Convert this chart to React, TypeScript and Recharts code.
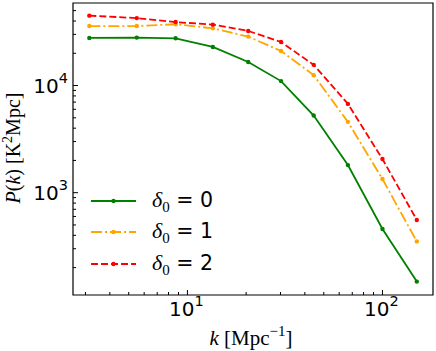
import React from 'react';
import { LineChart, Line, XAxis, YAxis, ReferenceArea, Legend } from 'recharts';

// values (log-log power spectrum)
const kValues = [3.14, 5.5, 8.7, 13.5, 20.5, 30.2, 44.4, 66.5, 100, 150];
const pDelta0 = [27800, 28000, 27600, 22900, 16600, 11000, 5250, 1810, 458, 148];
const pDelta1 = [35900, 35900, 37300, 34200, 28600, 21000, 12500, 4580, 1340, 351];
const pDelta2 = [44900, 42600, 39100, 37000, 32300, 25500, 15600, 6740, 2060, 556];
const deltaLabels = ['0', '1', '2'];

const xTicks = [3, 4, 5, 6, 7, 8, 9, 10, 20, 30, 40, 50, 60, 70, 80, 90, 100];
const yTicks = [
  200, 300, 400, 500, 600, 700, 800, 900, 1000,
  2000, 3000, 4000, 5000, 6000, 7000, 8000, 9000, 10000,
  20000, 30000, 40000, 50000,
];
const xMajor = [10, 100];
const yMajor = [1000, 10000];
const xDomain = [2.59, 181.6];
const yDomain = [111, 58900];

const data = kValues.map((k, i) => ({ k, p0: pDelta0[i], p1: pDelta1[i], p2: pDelta2[i] }));

const SANS = '"DejaVu Sans", sans-serif';
const SERIF = '"Liberation Serif", "DejaVu Serif", serif';

const exponent = (v: number) => String(Math.round(Math.log10(v)));

const XTick = ({ x, y, payload }: any) => {
  const major = xMajor.includes(payload.value);
  return (
    <g>
      <line x1={x} x2={x} y1={y} y2={y - (major ? 5 : 3)} stroke="#000" strokeWidth={1} />
      {major && (
        <text x={x - 1} y={y + 20.5} textAnchor="middle" fontFamily={SANS} fontSize={20} fill="#000">
          10<tspan dy={-9.5} fontSize={14.5}>{exponent(payload.value)}</tspan>
        </text>
      )}
    </g>
  );
};

const YTick = ({ x, y, payload }: any) => {
  const major = yMajor.includes(payload.value);
  return (
    <g>
      <line x1={x} x2={x + (major ? 5 : 3)} y1={y} y2={y} stroke="#000" strokeWidth={1} />
      {major && (
        <text x={x - 5} y={y + 7.3} textAnchor="end" fontFamily={SANS} fontSize={20} fill="#000">
          10<tspan dy={-9.5} fontSize={14.5}>{exponent(payload.value)}</tspan>
        </text>
      )}
    </g>
  );
};

const XTitle = ({ viewBox }: any) => {
  const cx = viewBox ? viewBox.x + viewBox.width / 2 - 2 : 251;
  const by = viewBox ? viewBox.y + 49.5 : 344.5;
  return (
    <text x={cx} y={by} textAnchor="middle" fontFamily={SERIF} fontSize={21} fill="#000">
      <tspan fontStyle="italic">k</tspan> [Mpc<tspan dy={-9} fontSize={15}>−1</tspan><tspan dy={9}>]</tspan>
    </text>
  );
};

const YTitle = ({ viewBox }: any) => {
  const cy = viewBox ? viewBox.y + viewBox.height / 2 - 1 : 148;
  const bx = 20;
  return (
    <text x={bx} y={cy} transform={`rotate(-90 ${bx} ${cy})`} textAnchor="middle" fontFamily={SERIF} fontSize={20} fill="#000">
      <tspan fontStyle="italic">P</tspan>(<tspan fontStyle="italic">k</tspan>) [K<tspan dy={-8.5} fontSize={14}>2</tspan><tspan dy={8.5}>Mpc]</tspan>
    </text>
  );
};

const LegendContent = ({ payload }: any) => (
  <div>
    {(payload || []).map((entry: any, i: number) => (
      <div key={i} style={{ display: 'flex', alignItems: 'center', height: 31.5 }}>
        <svg width={50} height={12} style={{ display: 'block' }}>
          <line x1={3} x2={48} y1={6} y2={6} stroke={entry.color} strokeWidth={1.8}
            strokeDasharray={entry.payload && entry.payload.strokeDasharray} />
          <circle cx={25.5} cy={6} r={2.2} fill={entry.color} />
        </svg>
        <span style={{ marginLeft: 14, fontFamily: SANS, fontSize: 20.5, color: '#000', whiteSpace: 'nowrap', lineHeight: '20px' }}>
          <span style={{ fontFamily: SERIF, fontStyle: 'italic', fontSize: 22 }}>δ</span>
          <span style={{ fontFamily: SERIF, fontSize: 15, position: 'relative', top: 5 }}>0</span>
          {' = '}{deltaLabels[i]}
        </span>
      </div>
    ))}
  </div>
);

export default function App() {
  return (
    <div style={{ position: 'absolute', left: 0, top: 0, background: '#fff' }}>
      <LineChart width={436} height={351} data={data} margin={{ top: 3, right: 3, bottom: 0, left: 0 }}>
        <XAxis
          dataKey="k"
          type="number"
          scale="log"
          domain={xDomain}
          allowDataOverflow
          ticks={xTicks}
          interval={0}
          tickSize={0}
          tickMargin={0}
          tickLine={false}
          axisLine={false}
          tick={<XTick />}
          height={56}
          label={{ content: (p: any) => <XTitle viewBox={p.viewBox} /> }}
        />
        <YAxis
          type="number"
          scale="log"
          domain={yDomain}
          allowDataOverflow
          ticks={yTicks}
          interval={0}
          tickSize={0}
          tickMargin={0}
          tickLine={false}
          axisLine={false}
          tick={<YTick />}
          width={73}
          label={{ content: (p: any) => <YTitle viewBox={p.viewBox} /> }}
        />
        <ReferenceArea x1={xDomain[0]} x2={xDomain[1]} y1={yDomain[0]} y2={yDomain[1]}
          fill="none" stroke="#000" strokeWidth={1.2} fillOpacity={0} />
        <Line dataKey="p0" name={`δ0 = ${deltaLabels[0]}`} stroke="#008000" strokeWidth={1.8}
          dot={{ r: 2.2, fill: '#008000', stroke: 'none' }} activeDot={false} isAnimationActive={false} />
        <Line dataKey="p1" name={`δ0 = ${deltaLabels[1]}`} stroke="#FFA500" strokeWidth={1.8} strokeDasharray="11 3 2 3"
          dot={{ r: 2.2, fill: '#FFA500', stroke: 'none' }} activeDot={false} isAnimationActive={false} />
        <Line dataKey="p2" name={`δ0 = ${deltaLabels[2]}`} stroke="#FF0000" strokeWidth={1.8} strokeDasharray="7 3"
          dot={{ r: 2.2, fill: '#FF0000', stroke: 'none' }} activeDot={false} isAnimationActive={false} />
        <Legend
          layout="vertical"
          align="center"
          verticalAlign="middle"
          content={<LegendContent />}
          wrapperStyle={{ left: 88, top: 185, width: 160 }}
        />
      </LineChart>
    </div>
  );
}
